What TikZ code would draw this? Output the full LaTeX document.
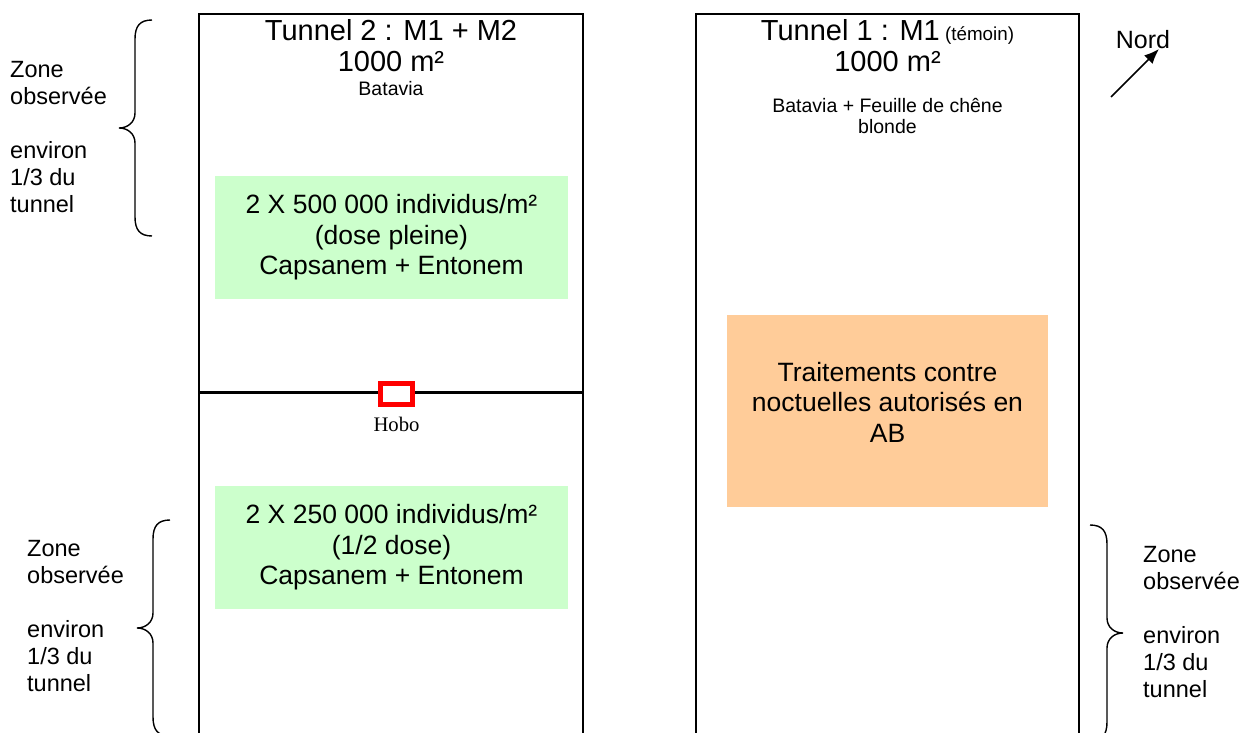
\documentclass[tikz,border=0pt]{standalone}
\usepackage{fontspec}
\setmainfont{Liberation Sans}
\newfontfamily\hobofont{Liberation Serif}
\usetikzlibrary{positioning,arrows.meta}
\definecolor{vertdose}{RGB}{204,255,204}
\definecolor{orangeab}{RGB}{255,204,153}
\newcommand{\taille}[2]{\fontsize{#1}{#2}\selectfont}

\tikzset{
  tunnel/.style={line width=2pt},
  titre/.style={align=center, inner sep=0pt, font=\taille{29pt}{31pt}},
  variete/.style={align=center, inner sep=0pt, font=\taille{19.5pt}{21pt}},
  dosebox/.style={fill=vertdose, minimum width=353pt, minimum height=123pt,
    inner sep=0pt, align=center, font=\taille{26.5pt}{30.5pt}},
  abbox/.style={fill=orangeab, minimum width=321pt, minimum height=192pt, inner sep=0pt},
  abtexte/.style={align=center, inner sep=0pt, font=\taille{26.5pt}{30.5pt}},
  zone/.style={align=left, inner sep=0pt, anchor=north west, font=\taille{23.5pt}{27pt}},
  capteur/.style={draw=red, fill=white, line width=5pt, minimum width=32pt, minimum height=21pt, inner sep=0pt},
  fleche/.style={line width=1.6pt, -{Latex[length=15pt,width=12pt]}},
  accolade/.pic={
    \draw[line width=1.4pt] (33,-108) .. controls (21,-108) and (16,-102) .. (16,-89)
      -- (16,-15) .. controls (16,-6) and (9,0) .. (0,0)
      .. controls (9,0) and (16,6) .. (16,15)
      -- (16,89) .. controls (16,102) and (21,108) .. (33,108);
  }
}

\begin{document}
\begin{tikzpicture}[x=1pt, y=-1pt]
  \useasboundingbox (0,0) rectangle (1256,733);

  % les deux tunnels
  \draw[tunnel] (199,733) -- (199,14) -- (583,14) -- (583,733);
  \draw[tunnel] (696,733) -- (696,14) -- (1079,14) -- (1079,733);
  \draw[line width=3pt] (199,392) -- (583,392);

  % tunnel 2
  \node[titre] (t2titre) at (391,46) {Tunnel 2 : M1 + M2\\1000 m²};
  \node[variete] (t2var) at (391,89) {Batavia};
  \node[dosebox] (dose1) at (391.5,237.5) {2 X 500 000 individus/m²\\(dose pleine)\\Capsanem + Entonem};
  \node[dosebox] (dose2) at (391.5,547.5) {2 X 250 000 individus/m²\\(1/2 dose)\\Capsanem + Entonem};
  \node[capteur] (hobo) at (396.5,394) {};
  \node[below=9.5pt of hobo, inner sep=0pt, font=\hobofont\taille{20.7pt}{22pt}] (hobotxt) {Hobo};

  % tunnel 1
  \node[titre] (t1titre) at (887.5,46) {Tunnel 1 : M1{\taille{18.8pt}{20pt} (témoin)}\\1000 m²};
  \node[variete] (t1var) at (887.5,116) {Batavia + Feuille de chêne\\blonde};
  \node[abbox] (ab) at (887.5,411) {};
  \node[abtexte] (abtxt) at (887.5,402) {Traitements contre\\noctuelles autorisés en\\AB};

  % zones observees
  \pic at (119,128) {accolade};
  \pic at (137,628) {accolade};
  \pic[xscale=-1] at (1123,633) {accolade};
  \node[zone] (zonehaut) at (10,61) {Zone\\observée\\[27pt]environ\\1/3 du\\tunnel};
  \node[zone] (zonebas) at (27,540) {Zone\\observée\\[27pt]environ\\1/3 du\\tunnel};
  \node[zone] (zonedroite) at (1143,546) {Zone\\observée\\[27pt]environ\\1/3 du\\tunnel};

  % nord
  \node[font=\taille{25pt}{27pt}, inner sep=0pt] (nord) at (1143,40) {Nord};
  \coordinate (nordpied) at (1111,97);
  \coordinate (nordtete) at (1159,49);
  \draw[fleche] (nordpied) -- (nordtete);
\end{tikzpicture}
\end{document}
